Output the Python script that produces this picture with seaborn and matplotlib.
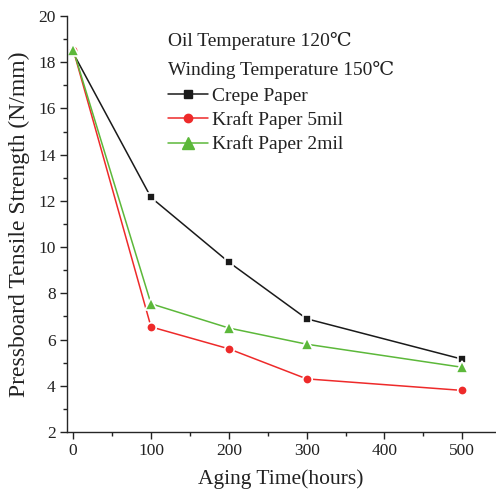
import matplotlib
matplotlib.use("Agg")
import matplotlib.pyplot as plt
from matplotlib.ticker import MultipleLocator
from matplotlib.lines import Line2D
import seaborn as sns
import pandas as pd

# Aging time in hours and tensile strength (N/mm) of each insulation paper
hours = [0, 100, 200, 300, 500]
crepe_paper = [18.4, 12.15, 9.35, 6.9, 5.15]
kraft_5mil = [18.55, 6.55, 5.6, 4.3, 3.8]
kraft_2mil = [18.55, 7.55, 6.5, 5.8, 4.8]

series_names = ["Crepe Paper", "Kraft Paper 5mil", "Kraft Paper 2mil"]
series_values = [crepe_paper, kraft_5mil, kraft_2mil]
series_colors = ["#1a1a1a", "#ee2a2a", "#5cb83a"]
series_markers = ["s", "o", "^"]
plot_marker_sizes = [6.2, 6.8, 9.0]
legend_marker_sizes = [5.5, 6.0, 8.0]

header_lines = ["Oil Temperature 120\u2103", "Winding Temperature 150\u2103"]
x_label = "Aging Time(hours)"
y_label = "Pressboard Tensile Strength (N/mm)"

sns.set_theme(style="ticks")
serif = ["Liberation Serif", "DejaVu Serif"]
plt.rcParams["font.family"] = serif
plt.rcParams["axes.linewidth"] = 1.0

fig = plt.figure(figsize=(4.96, 4.93), dpi=100)
ax = fig.add_axes([0.135, 0.1237, 0.863, 0.8438])

frames = []
for name, vals in zip(series_names, series_values):
    frames.append(pd.DataFrame({"hours": hours, "strength": vals, "paper": name}))
df = pd.concat(frames, ignore_index=True)

for name, color, marker, ms in zip(series_names, series_colors, series_markers,
                                   plot_marker_sizes):
    sub = df[df["paper"] == name]
    sns.lineplot(data=sub, x="hours", y="strength", ax=ax, color=color,
                 marker=marker, markersize=ms, markeredgecolor="white",
                 markeredgewidth=1.2, linewidth=1.1, label=name, legend=False)

ax.set_xlim(-8, 542)
ax.set_ylim(2, 20)
ax.xaxis.set_major_locator(MultipleLocator(100))
ax.xaxis.set_minor_locator(MultipleLocator(50))
ax.yaxis.set_major_locator(MultipleLocator(2))
ax.yaxis.set_minor_locator(MultipleLocator(1))
ax.tick_params(which="major", direction="out", length=5, width=1.0,
               labelsize=12.5, colors="#222222", pad=3)
ax.tick_params(which="minor", direction="out", length=3, width=1.0,
               colors="#222222")

sns.despine(ax=ax, top=True, right=True)
ax.set_facecolor("white")
fig.patch.set_facecolor("white")

ax.set_xlabel(x_label, fontsize=15.5, color="#222222", labelpad=7)
ax.set_ylabel(y_label, fontsize=17, color="#222222", labelpad=6)

# Test conditions written above the legend entries
ax.text(0.236, 0.9406, header_lines[0], transform=ax.transAxes,
        fontsize=14, color="#222222", va="center", ha="left")
ax.text(0.236, 0.870, header_lines[1], transform=ax.transAxes,
        fontsize=14, color="#222222", va="center", ha="left")

legend_handles = [Line2D([], [], color=c, marker=m, markersize=s, linewidth=1.1,
                         markeredgecolor=c)
                  for c, m, s in zip(series_colors, series_markers, legend_marker_sizes)]
leg = ax.legend(legend_handles, series_names, loc="upper left",
                bbox_to_anchor=(0.236, 0.828), frameon=False, fontsize=14,
                handlelength=2.05, handletextpad=0.2, labelspacing=0.32,
                borderpad=0, borderaxespad=0)
for t in leg.get_texts():
    t.set_color("#222222")

fig.savefig("out.png", dpi=100)
